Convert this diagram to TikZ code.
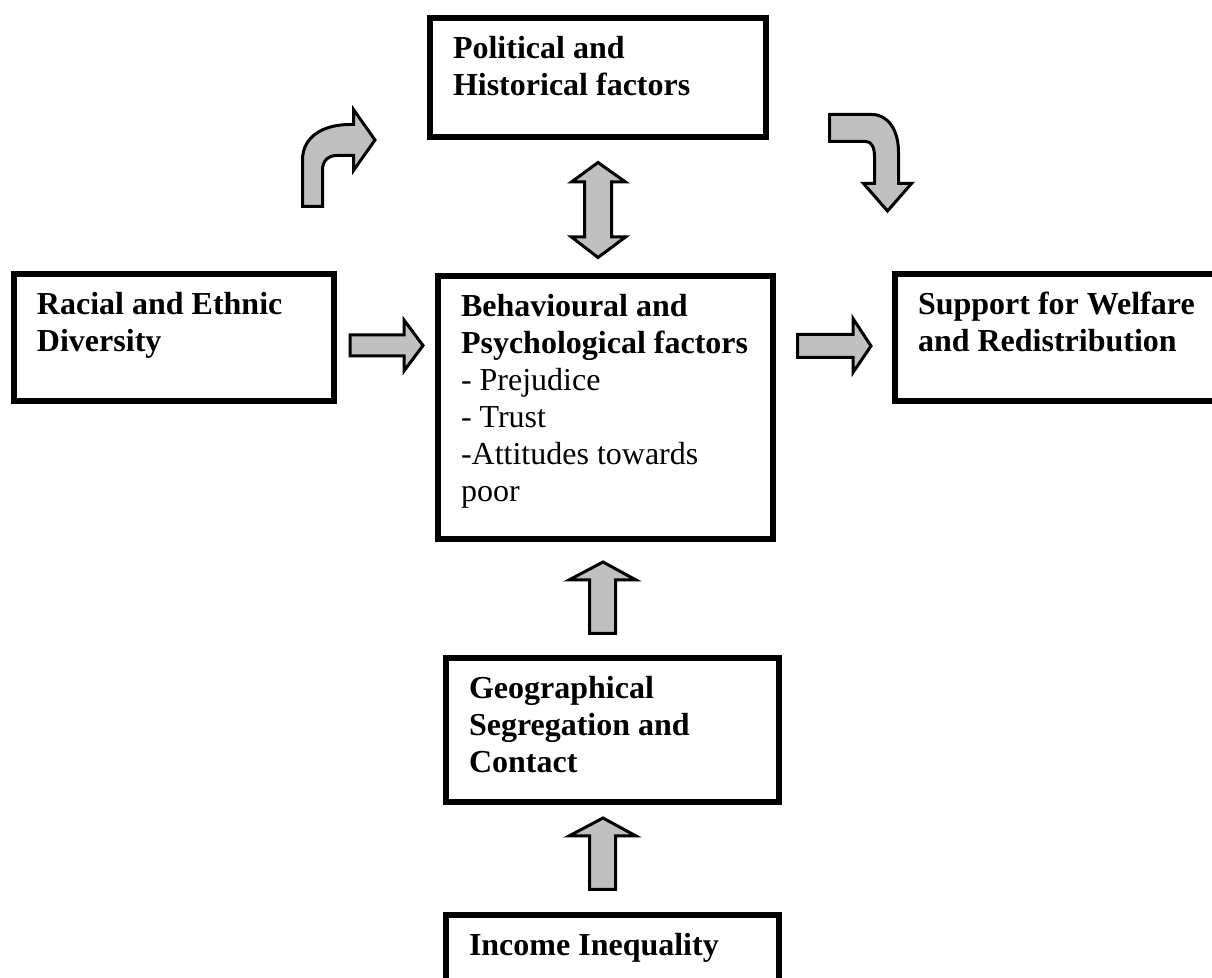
\documentclass[tikz,border=0pt]{standalone}
\usepackage{fontspec}
\setmainfont{Liberation Serif}
\usepackage{xcolor}

\definecolor{arrowgray}{HTML}{C0C0C0}
\newcommand{\boxtext}[3]{\parbox[c][#2][t]{#1}{\raggedright\strut #3}}

\tikzset{
	factor/.style={draw, line width=3pt, anchor=north west, outer sep=0pt,
		inner xsep=11.5pt, inner ysep=7.5pt, font=\fontsize{16}{18.5}\selectfont},
	blockarrow/.style={draw, fill=arrowgray, line width=1.5pt, line join=miter}
}

\begin{document}
\begin{tikzpicture}[x=0.5pt, y=-0.5pt]
			\useasboundingbox (0,0) rectangle (1212,978);
			\clip (0,0) rectangle (1212,978);

			\node[factor] (political) at (430,18) {\boxtext{145pt}{44.5pt}{\bfseries Political and\\ Historical factors}};
			\node[factor] (diversity) at (14,274) {\boxtext{137pt}{48.5pt}{\bfseries Racial and Ethnic\\ Diversity}};
			\node[factor] (behaviour) at (438,276) {\boxtext{144.5pt}{116.5pt}{\textbf{Behavioural and}\\ \textbf{Psychological factors}\\ - Prejudice\\ - Trust\\ -Attitudes towards\\ poor}};
			\node[factor] (support) at (895,274) {\boxtext{152pt}{48.5pt}{\bfseries Support for Welfare\\ and Redistribution}};
			\node[factor] (segregation) at (446,658) {\boxtext{143.5pt}{57pt}{\bfseries Geographical\\ Segregation and\\ Contact}};
			\node[factor] (inequality) at (446,915) {\boxtext{143.5pt}{30pt}{\bfseries Income Inequality}};

			% horizontal block arrows
			\draw[blockarrow] (350,335) -- (404,335) -- (404,320) -- (423,345.5) -- (404,371) -- (404,356) -- (350,356) -- cycle;
			\draw[blockarrow] (797.5,334.5) -- (853,334.5) -- (853,318.5) -- (871,346) -- (853,372.5) -- (853,357.5) -- (797.5,357.5) -- cycle;

			% upward block arrows
			\foreach \dy in {0, 256}
			\draw[blockarrow, shift={(0,\dy)}] (589.5,633.5) -- (589.5,580) -- (569,580) -- (603,562) -- (636,580) -- (615.5,580) -- (615.5,633.5) -- cycle;

			% double arrow
			\draw[blockarrow] (598,162.5) -- (625.5,182) -- (611.5,182) -- (611.5,237) -- (625.5,237) -- (598,257.5) -- (571.5,237) -- (584.5,237) -- (584.5,182) -- (571.5,182) -- cycle;

			% bent arrows
			\draw[blockarrow] (302.5,206.5) -- (302.5,160) .. controls (302.5,136) and (324,124.5) .. (350,124.5) -- (353.5,124.5) -- (353.5,109.5) -- (375,140) -- (353.5,170.5) -- (353.5,155.5) -- (337,155.5) .. controls (328,155.5) and (322.5,161) .. (322.5,170) -- (322.5,206.5) -- cycle;
			\draw[blockarrow] (829.5,114.5) -- (872,114.5) .. controls (888,114.5) and (898.5,130) .. (898.5,152) -- (898.5,183.5) -- (911.5,183.5) -- (887.5,211) -- (863.5,183.5) -- (874.5,183.5) -- (874.5,156) .. controls (874.5,147) and (871,141.5) .. (866,141.5) -- (829.5,141.5) -- cycle;
		\end{tikzpicture}
\end{document}
